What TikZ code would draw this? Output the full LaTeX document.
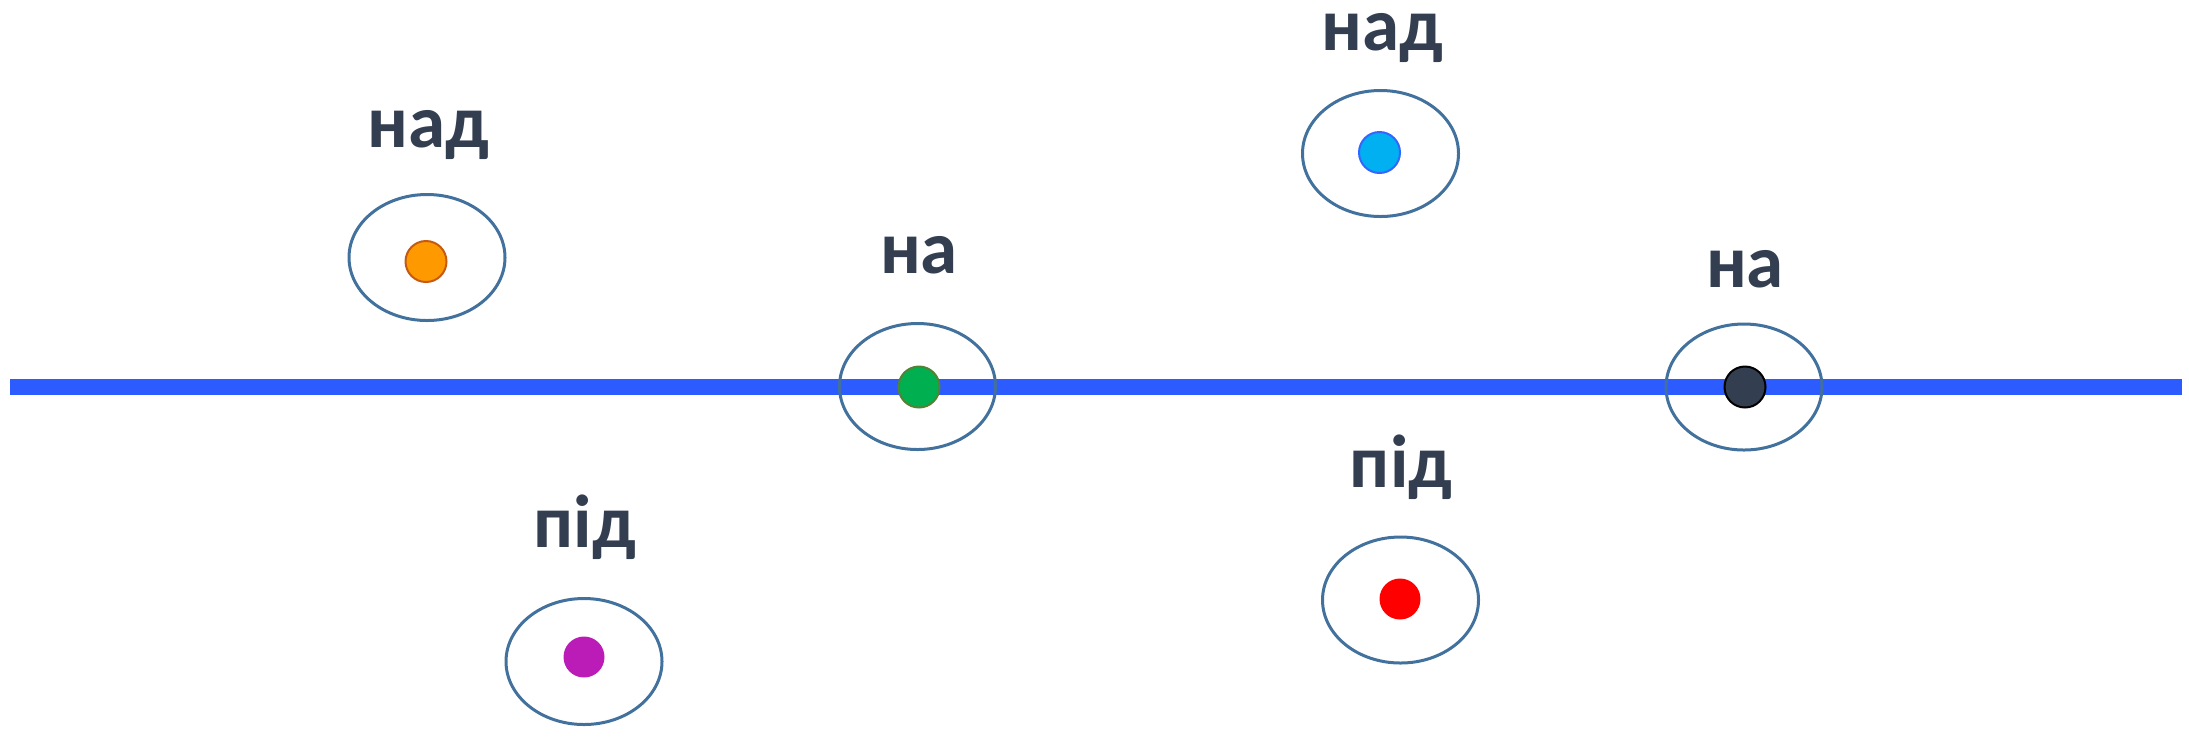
\documentclass[tikz,border=0pt]{standalone}
\usepackage{fontspec}
\setmainfont{Carlito}
\usetikzlibrary{shapes.geometric}
\definecolor{txt}{HTML}{333F50}
\definecolor{ring}{HTML}{41719C}
\definecolor{axis}{RGB}{44,92,255}
\definecolor{orangef}{HTML}{FF9900}
\definecolor{oranged}{HTML}{C55A11}
\definecolor{greenf}{HTML}{00B050}
\definecolor{greend}{HTML}{548235}
\definecolor{cyanf}{HTML}{00B0F0}
\definecolor{cyand}{HTML}{3366FF}
\definecolor{darkf}{HTML}{333F50}
\definecolor{redf}{HTML}{FF0000}
\definecolor{purplef}{HTML}{BB1CB8}
\tikzset{
  ringbox/.style={ellipse, draw=ring, line width=1.5pt, minimum width=78pt, minimum height=63pt, inner sep=0pt},
  dotbox/.style={circle, minimum size=20.5pt, inner sep=0pt, line width=1pt},
  lbl/.style={anchor=base, text=txt, font=\fontsize{37.5}{45}\selectfont\bfseries, inner sep=0pt}
}
\begin{document}
\begin{tikzpicture}[x=0.5pt,y=-0.5pt]
\useasboundingbox (0,0) rectangle (2189,736);
\coordinate (la) at (10,387);
\coordinate (lb) at (2182,387);
\draw[axis, line width=8pt] (la) -- (lb);
% orange
\node[ringbox] (e1) at (427,257.5) {};
\node[dotbox, fill=orangef, draw=oranged] (d1) at (426,261.5) {};
\node[lbl] (t1) at (428,147) {над};
% green
\node[ringbox] (e2) at (917.5,386.5) {};
\node[dotbox, fill=greenf, draw=greend] (d2) at (919,387) {};
\node[lbl] (t2) at (919,273) {на};
% cyan
\node[ringbox] (e3) at (1380.5,153.5) {};
\node[dotbox, fill=cyanf, draw=cyand] (d3) at (1379.5,152.5) {};
\node[lbl] (t3) at (1382,50) {над};
% dark
\node[ringbox] (e4) at (1744,387) {};
\node[dotbox, fill=darkf, draw=black] (d4) at (1745,387) {};
\node[lbl] (t4) at (1745,287) {на};
% red
\node[ringbox] (e5) at (1400.5,600) {};
\node[dotbox, fill=redf] (d5) at (1400,599) {};
\node[lbl] (t5) at (1401,487) {під};
% purple
\node[ringbox] (e6) at (584,661.5) {};
\node[dotbox, fill=purplef] (d6) at (584,657) {};
\node[lbl] (t6) at (585,547) {під};
\end{tikzpicture}
\end{document}
